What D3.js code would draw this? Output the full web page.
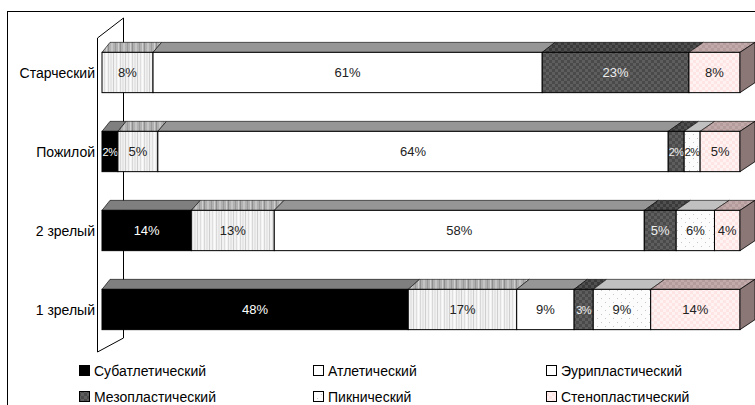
<!DOCTYPE html>
<html>
<head>
<meta charset="utf-8">
<script src="https://cdn.jsdelivr.net/npm/d3@7"></script>
<style>
  html, body { margin: 0; padding: 0; background: #fff; }
  svg { display: block; font-family: "Liberation Sans", Arial, sans-serif; }
</style>
</head>
<body>
<div id="chart"></div>
<script>
'use strict';

// Categories from top to bottom as shown
var categories = ['Старческий', 'Пожилой', '2 зрелый', '1 зрелый'];
var seriesNames = ['Субатлетический', 'Атлетический', 'Эурипластический',
                   'Мезопластический', 'Пикнический', 'Стенопластический'];
// values per series, same order as categories
var subatl  = [0, 2, 14, 48];
var atl     = [8, 5, 13, 17];
var euri    = [61, 64, 58, 9];
var mezo    = [23, 2, 5, 3];
var pikn    = [0, 2, 6, 9];
var steno   = [8, 5, 4, 14];
var seriesValues = [subatl, atl, euri, mezo, pikn, steno];

var W = 755, H = 405;
var svg = d3.select('#chart').append('svg').attr('width', W).attr('height', H);

// ── Patterns ──────────────────────────────────────
var defs = svg.append('defs');

var pAtl = defs.append('pattern').attr('id', 'p-atl').attr('patternUnits', 'userSpaceOnUse')
  .attr('width', 12).attr('height', 4);
pAtl.append('rect').attr('width', 12).attr('height', 4).attr('fill', '#f2f2f2');
[[0, 1, '#d8d8d8'], [2, 2, '#e6e6e6'], [5, 1, '#cfcfcf'], [8, 1, '#dedede'], [10, 1, '#fbfbfb']]
  .forEach(function (s) {
    pAtl.append('rect').attr('x', s[0]).attr('width', s[1]).attr('height', 4).attr('fill', s[2]);
  });

var pAtlTop = defs.append('pattern').attr('id', 'p-atl-top').attr('patternUnits', 'userSpaceOnUse')
  .attr('width', 12).attr('height', 4);
pAtlTop.append('rect').attr('width', 12).attr('height', 4).attr('fill', '#b0b0b0');
[[0, 1, '#8e8e8e'], [3, 2, '#c4c4c4'], [7, 1, '#999'], [10, 1, '#d0d0d0']]
  .forEach(function (s) {
    pAtlTop.append('rect').attr('x', s[0]).attr('width', s[1]).attr('height', 4).attr('fill', s[2]);
  });

function checker(id, a, b, size) {
  var p = defs.append('pattern').attr('id', id).attr('patternUnits', 'userSpaceOnUse')
    .attr('width', size * 2).attr('height', size * 2);
  p.append('rect').attr('width', size * 2).attr('height', size * 2).attr('fill', a);
  p.append('rect').attr('width', size).attr('height', size).attr('fill', b);
  p.append('rect').attr('x', size).attr('y', size).attr('width', size).attr('height', size).attr('fill', b);
}
checker('p-mezo', '#4a4a4a', '#5e5e5e', 3);
checker('p-mezo-top', '#3a3a3a', '#505050', 3);
checker('p-steno', '#ffe4e4', '#fff2f2', 3);
checker('p-steno-top', '#b49c9c', '#c2aaaa', 3);

var pPik = defs.append('pattern').attr('id', 'p-pik').attr('patternUnits', 'userSpaceOnUse')
  .attr('width', 8).attr('height', 8);
pPik.append('rect').attr('width', 8).attr('height', 8).attr('fill', '#fcfcfc');
pPik.append('rect').attr('x', 1).attr('y', 2).attr('width', 1).attr('height', 1).attr('fill', '#c8c8c8');
pPik.append('rect').attr('x', 5).attr('y', 6).attr('width', 1).attr('height', 1).attr('fill', '#c8c8c8');

var frontFill = ['#000', 'url(#p-atl)', '#fff', 'url(#p-mezo)', 'url(#p-pik)', 'url(#p-steno)'];
var topFill   = ['#7f7f7f', 'url(#p-atl-top)', '#969696', 'url(#p-mezo-top)', '#c0c0c0', 'url(#p-steno-top)'];
var sideFill  = ['#555', '#999', '#888', '#333', '#999', '#8c7777'];
var labelColor = ['#fff', '#222', '#222', '#eee', '#222', '#222'];

// ── Frame ─────────────────────────────────────────
svg.append('rect').attr('x', 7.5).attr('y', 11.5).attr('width', 800).attr('height', 420)
  .attr('fill', 'none').attr('stroke', '#000');

// ── Scales ────────────────────────────────────────
var xFront = d3.scaleLinear().domain([0, 1]).range([102, 740]);
var xBack  = d3.scaleLinear().domain([0, 1]).range([110, 755]);
var y = d3.scaleBand().domain(categories).range([33, 349]).paddingInner(0.49).paddingOuter(0.245);
var depthY = 10;

// ── Back / side wall ──────────────────────────────
var wall = svg.append('g').attr('stroke', '#000').attr('fill', 'none');
wall.append('line').attr('x1', 97.5).attr('y1', 38).attr('x2', 97.5).attr('y2', 352);
wall.append('line').attr('x1', 97.5).attr('y1', 38).attr('x2', 123.5).attr('y2', 18);
wall.append('line').attr('x1', 97.5).attr('y1', 352).attr('x2', 123.5).attr('y2', 338);
wall.append('line').attr('x1', 123.5).attr('y1', 18).attr('x2', 123.5).attr('y2', 338);

// ── Stack data (100% stacked) ─────────────────────
var table = categories.map(function (c, i) {
  var row = { cat: c };
  seriesNames.forEach(function (s, k) { row[s] = seriesValues[k][i]; });
  return row;
});
var stacked = d3.stack().keys(seriesNames).offset(d3.stackOffsetExpand)(table);

var bars = svg.append('g');
categories.forEach(function (cat, ci) {
  var y0 = y(cat), y1 = y(cat) + y.bandwidth();
  var g = bars.append('g');
  var lastK = -1;
  stacked.forEach(function (layer, k) { if (seriesValues[k][ci] > 0) lastK = k; });

  stacked.forEach(function (layer, k) {
    var d = layer[ci];
    if (seriesValues[k][ci] <= 0) return;
    var f0 = xFront(d[0]), f1 = xFront(d[1]);
    var b0 = xBack(d[0]), b1 = xBack(d[1]);
    g.append('polygon')
      .attr('points', [[f0, y0], [f1, y0], [b1, y0 - depthY], [b0, y0 - depthY]].join(' '))
      .attr('fill', topFill[k]).attr('stroke', '#000').attr('stroke-width', 0.6);
    g.append('rect')
      .attr('x', f0).attr('y', y0).attr('width', f1 - f0).attr('height', y1 - y0)
      .attr('fill', frontFill[k]).attr('stroke', '#000').attr('stroke-width', 1);
    if (k === lastK) {
      g.append('polygon')
        .attr('points', [[f1, y0], [b1, y0 - depthY], [b1, y1 - depthY], [f1, y1]].join(' '))
        .attr('fill', sideFill[k]).attr('stroke', '#000').attr('stroke-width', 0.8);
    }
    var narrow = (f1 - f0) < 20;
    g.append('text')
      .attr('x', (f0 + f1) / 2).attr('y', (y0 + y1) / 2)
      .attr('text-anchor', 'middle').attr('dominant-baseline', 'central')
      .attr('font-size', narrow ? 11 : 13).attr('letter-spacing', narrow ? -0.6 : 0)
      .attr('fill', labelColor[k])
      .text(seriesValues[k][ci] + '%');
  });

  svg.append('text')
    .attr('x', 95).attr('y', (y0 + y1) / 2)
    .attr('text-anchor', 'end').attr('dominant-baseline', 'central')
    .attr('font-size', 14).attr('fill', '#000')
    .text(cat);
});

// ── Legend ────────────────────────────────────────
var legendX = [79, 313, 546];
var legendY = [371, 397];
var legendSym = ['#000', '#fff', '#fff', 'url(#p-mezo)', 'url(#p-pik)', 'url(#p-steno)'];
seriesNames.forEach(function (s, k) {
  var col = k % 3, row = Math.floor(k / 3);
  var lx = legendX[col], ly = legendY[row];
  svg.append('rect').attr('x', lx + 0.5).attr('y', ly - 5.5).attr('width', 10).attr('height', 10)
    .attr('fill', legendSym[k]).attr('stroke', '#000');
  svg.append('text').attr('x', lx + 15).attr('y', ly)
    .attr('dominant-baseline', 'central').attr('font-size', 14).attr('fill', '#000')
    .text(s);
});
</script>
</body>
</html>
